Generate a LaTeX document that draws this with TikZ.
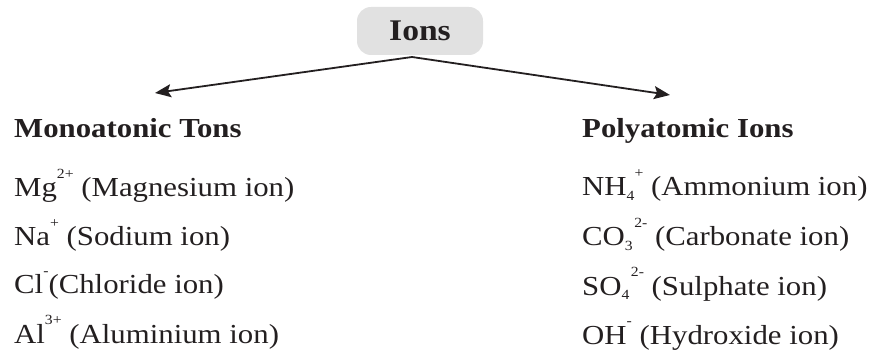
\documentclass[tikz,border=0pt]{standalone}
\usepackage{fontspec}
\setmainfont[FakeStretch=1.12]{Liberation Serif}
\usetikzlibrary{arrows.meta}
\newcommand\ionsup[1]{\raisebox{0.66em}{\fontsize{14}{14}\selectfont #1}}
\newcommand\ionsub[1]{\raisebox{-0.18em}{\fontsize{14}{14}\selectfont #1}}
\definecolor{boxgray}{HTML}{E1E1E1}
\definecolor{ink}{HTML}{231F20}
\tikzset{
  ionbox/.style={fill=boxgray, rounded corners=14pt, minimum width=126pt, minimum height=48pt, inner sep=0pt, font=\fontsize{30}{30}\selectfont\bfseries, text=ink},
  item/.style={anchor=base west, inner sep=0pt, font=\fontsize{27.5}{27.5}\selectfont, text=ink},
  head/.style={item, font=\fontsize{27.5}{27.5}\selectfont\bfseries},
  branch/.style={draw=ink, line width=1.8pt, -{Stealth[length=16pt,width=13pt,inset=3pt]}}
}
\begin{document}
\begin{tikzpicture}[x=1pt,y=-1pt]
\useasboundingbox (0,0) rectangle (873,358);
\node[ionbox] (ions) at (420,31) {Ions};
\coordinate (apex) at (412,57);
\coordinate (ltip) at (155,93);
\coordinate (rtip) at (670,95);
\draw[branch] (apex) -- (ltip);
\draw[branch] (apex) -- (rtip);
\node[head] (mono) at (14,138) {Monoatonic Tons};
\node[item] (mg) at (14,197) {Mg\ionsup{2+} (Magnesium ion)};
\node[item] (na) at (14,246) {Na\ionsup{+} (Sodium ion)};
\node[item] (cl) at (14,294) {Cl\ionsup{-}(Chloride ion)};
\node[item] (al) at (14,343) {Al\ionsup{3+} (Aluminium ion)};
\node[head] (poly) at (582,138) {Polyatomic Ions};
\node[item] (nh) at (582,196) {NH\ionsub{4}\ionsup{+} (Ammonium ion)};
\node[item] (co) at (582,246) {CO\ionsub{3}\kern1.5pt\ionsup{2-} (Carbonate ion)};
\node[item] (so) at (582,295) {SO\ionsub{4}\kern1.5pt\ionsup{2-} (Sulphate ion)};
\node[item] (oh) at (582,344) {OH\ionsup{-} (Hydroxide ion)};
\end{tikzpicture}
\end{document}
